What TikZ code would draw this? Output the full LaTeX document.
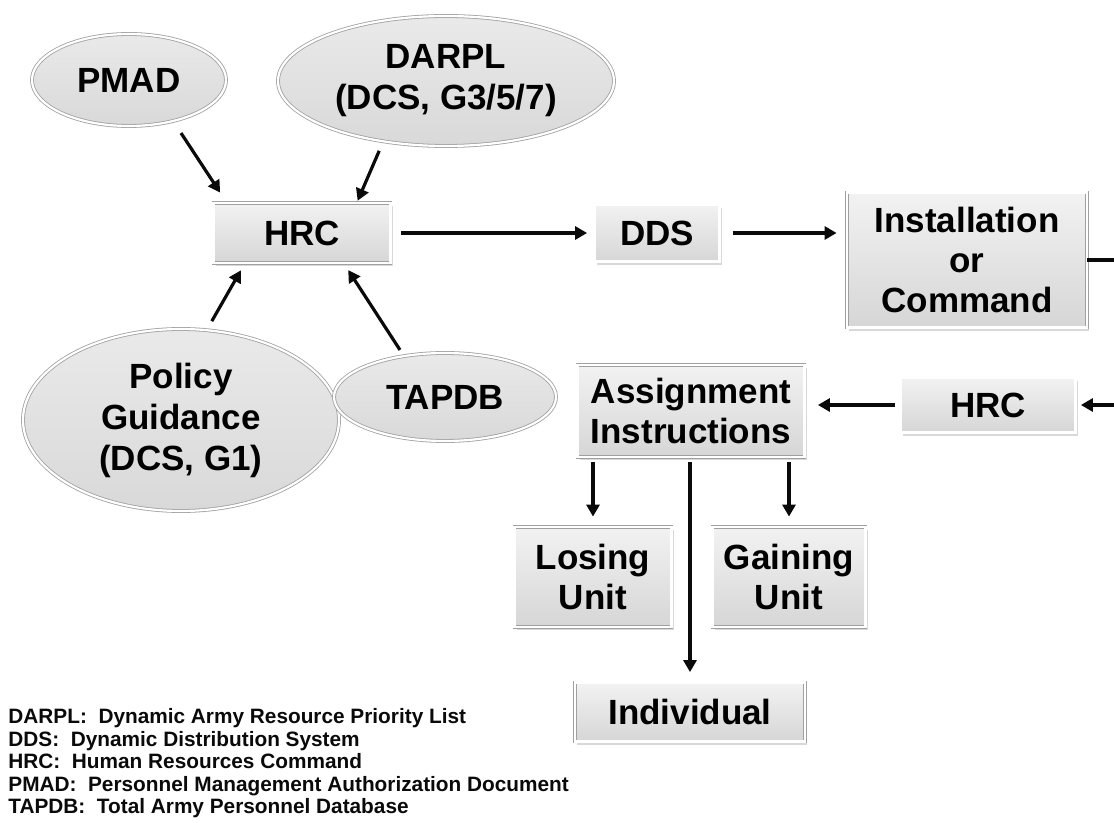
\documentclass[tikz,border=0pt]{standalone}
\usepackage{fontspec}
\setmainfont{Liberation Sans}
\usetikzlibrary{calc, positioning, arrows.meta, shapes.geometric, shadows}
\definecolor{inkBlack}{HTML}{0A0A0A}
\definecolor{rimGrey}{HTML}{A0A0A0}
\definecolor{fillTop}{HTML}{F2F2F2}
\definecolor{fillBot}{HTML}{D6D6D6}
\tikzset{
  box/.style   = {draw=rimGrey, double=white, double distance=1.1pt,
                  top color=fillTop, bottom color=fillBot, align=center,
                  font=\bfseries\fontsize{17.5}{20}\selectfont, inner sep=2pt,
                  drop shadow={shadow xshift=1.2pt, shadow yshift=-1.6pt, opacity=0.3}},
  oval/.style  = {ellipse, draw=rimGrey, double=white, double distance=1.1pt,
                  top color=fillTop!70!fillBot, bottom color=fillBot!90!fillTop, align=center,
                  font=\bfseries\fontsize{17.5}{20.5}\selectfont, inner sep=0pt},
  fl/.style    = {-{Triangle[length=6pt, width=6.5pt]}, draw=inkBlack, line width=1.6pt},
  lbl/.style   = {font=\bfseries\fontsize{10.4}{11.3}\selectfont, text=inkBlack,
                  align=left, inner sep=0pt}
}

\begin{document}
\begin{tikzpicture}[x=0.5pt, y=-0.5pt]
  \useasboundingbox[fill=white] (0,0) rectangle (1114,823);
  \clip (0,0) rectangle (1114,823);
  % sources round the first HRC
  \node[oval, minimum width=97pt, minimum height=46pt] (pmad) at (129,80) {PMAD};
  \node[oval, minimum width=168pt, minimum height=65pt] (darpl) at (446,81) {DARPL\\(DCS, G3/5/7)};
  \node[oval, minimum width=158pt, minimum height=91pt] (policy) at (181,420) {Policy\\Guidance\\(DCS, G1)};
  \node[oval, minimum width=111pt, minimum height=44pt] (tapdb) at (445,397) {TAPDB};
  % main chain
  \node[box, minimum width=88.5pt, minimum height=30pt] (hrcA) at (302,233) {HRC};
  \node[box, minimum width=62.5pt, minimum height=28.5pt] (dds) at (657,233) {DDS};
  \node[box, minimum width=120pt, minimum height=67.5pt] (inst) at (967,260) {Installation\\or\\Command};
  \node[box, minimum width=87.5pt, minimum height=27.5pt] (hrcB) at (988,405) {HRC};
  \node[box, minimum width=113.5pt, minimum height=46pt] (assign) at (691,411) {Assignment\\Instructions};
  \node[box, minimum width=78.5pt, minimum height=50pt] (losing) at (593,577) {Losing\\Unit};
  \node[box, minimum width=76.5pt, minimum height=50pt] (gaining) at (789,577) {Gaining\\Unit};
  \node[box, minimum width=115pt, minimum height=29.5pt] (indiv) at (690,712) {Individual};
  % legend
  \node[lbl, anchor=north west] (legend) at (8,708)
    {DARPL:~ Dynamic Army Resource Priority List\\
     DDS:~ Dynamic Distribution System\\
     HRC:~ Human Resources Command\\
     PMAD:~ Personnel Management Authorization Document\\
     TAPDB:~ Total Army Personnel Database};
  % connectors
  \draw[fl, shorten <=7pt, shorten >=6pt] (pmad.-43) -- (hrcA.158);
  \draw[fl, shorten <=5pt, shorten >=1pt] (darpl.224) -- (hrcA.29);
  \draw[fl, shorten <=5pt, shorten >=4pt] (policy.74) -- (hrcA.208);
  \draw[fl, shorten <=3.5pt, shorten >=4pt] (tapdb.135) -- (hrcA.-36);
  \draw[fl, shorten <=5pt, shorten >=3.5pt] (hrcA) -- (dds);
  \draw[fl, shorten <=6.5pt, shorten >=5pt] (dds.east) -- (dds.east -| inst.west);
  \draw[fl, shorten >=2.5pt] (inst.east) -- ++(40,0) |- (hrcB.east);
  \draw[fl, shorten <=2.5pt, shorten >=6.5pt] (hrcB.west) -- (hrcB.west -| assign.east);
  \draw[fl, shorten <=2.5pt, shorten >=5pt] (losing.north |- assign.south) -- (losing.north);
  \draw[fl, shorten <=2.5pt, shorten >=5pt] (gaining.north |- assign.south) -- (gaining.north);
  \draw[fl, shorten <=2.5pt, shorten >=5pt] (indiv.north |- assign.south) -- (indiv.north);
\end{tikzpicture}
\end{document}
